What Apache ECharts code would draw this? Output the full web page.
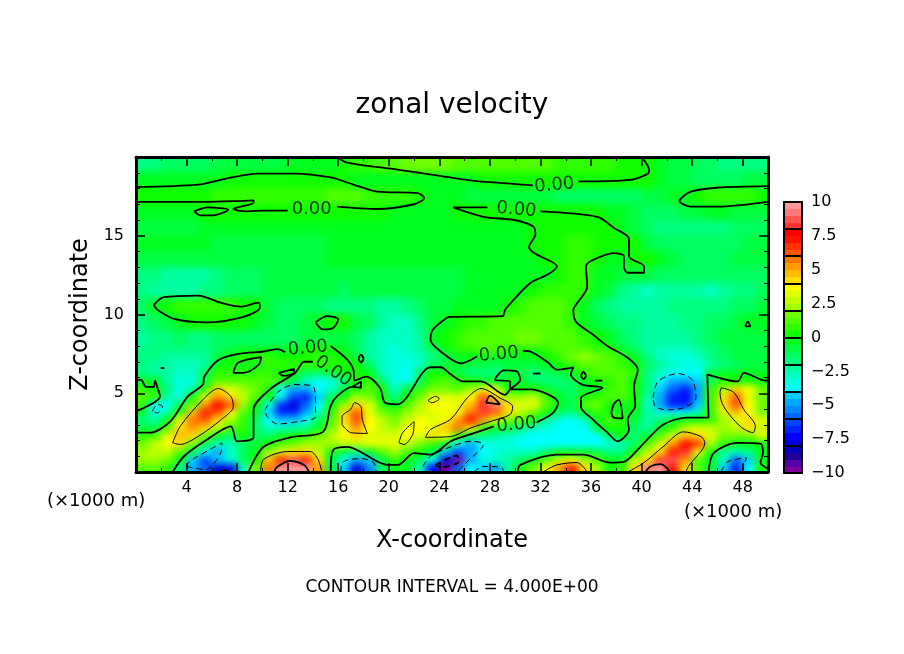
<!DOCTYPE html>
<html>
<head>
<meta charset="utf-8">
<title>zonal velocity</title>
<script src="https://cdn.jsdelivr.net/npm/echarts@6/dist/echarts.min.js"></script>
<style>
html, body { margin: 0; padding: 0; background: #fff; }
#main { width: 904px; height: 654px; }
/* the velocity cells sit alone on the first canvas layer: soften them, keep them inside the frame */
#main canvas[data-zr-dom-id="zr_0"] { filter: blur(3.5px); clip-path: inset(158px 137px 183px 137px); }
</style>
</head>
<body>
<div id="main"></div>
<script>
// cell edges of the velocity grid (x in km, one cell per km)
const xEdges = [0,1,2,3,4,5,6,7,8,9,10,11,12,13,14,15,16,17,18,19,20,21,22,23,24,25,26,27,28,29,30,31,32,33,34,35,36,37,38,39,40,41,42,43,44,45,46,47,48,49,50];
const zEdges = [20,19,18,17,16,15,14,13,12,11,10,9,8,7.5,7,6.5,6,5.5,5,4.5,4,3.5,3,2.5,2,1.5,1,0.5,0];

// velocity, one list per row, top row first
const u195 = [-1.6,-1.6,-1.5,-1.4,-1.2,-1.1,-1,-1,-0.9,-0.8, -0.7,-0.6,-0.5,-0.4,-0.3,-0.2,0.3,0.6,0.9,1.1, 1.4,1.6,1.7,1.7,1.5,1.4,1.3,1.3,1.2,1.2, 1.1,1,1,0.9,0.8,0.7,0.6,0.5,0.4,0.3, 0.1,-0.5,-0.8,-1,-1.2,-1.4,-1.6,-1.7,-1.7,-1.6];
const u185 = [-0.5,-0.5,-0.4,-0.4,-0.3,-0.2,-0.1,0.1,0.2,0.3, 0.4,0.4,0.4,0.4,0.3,0.2,0.1,-0.1,-0.2,-0.3, -0.3,-0.3,-0.3,-0.3,-0.2,-0.2,-0.1,0.05,0.1,0.2, 0.3,0.4,0.4,0.4,0.3,0.1,0.05,0.05,0.05,0.05, 0.1,-0.5,-0.9,-1,-1.1,-1.2,-1.1,-1.1,-1,-1];
const u175 = [0.2,0.2,0.2,0.2,0.3,0.4,0.5,0.6,0.7,0.8, 0.9,0.8,0.7,0.7,0.9,1,1,1.2,0.8,0.7, 0.6,0.5,0.3,-0.1,-0.4,-0.5,-0.7,-0.8,-0.9,-1, -1,-1,-1,-1.1,-1.2,-1.2,-1.2,-1.1,-1.1,-1.1, -1,-0.8,-0.5,-0.1,0.3,0.5,0.6,0.5,0.5,0.4];
const u165 = [-0.4,-0.4,-0.4,-0.3,-0.1,0.1,0.1,0.1,0.1,0.1, 0.1,0.1,0.1,0.1,0.2,0.2,0.2,0.2,0.1,0.1, -0.1,-0.2,-0.3,-0.4,-0.3,0.1,0.2,0.2,0.1,0.1, 0.1,0.2,0.2,0.3,0.3,0.2,0.1,-0.1,-0.5,-0.9, -1.3,-1.4,-1.3,-0.9,-0.7,-0.5,-0.5,-0.6,-0.6,-0.6];
const u155 = [-0.6,-0.7,-0.7,-0.6,-0.6,-0.5,-0.5,-0.5,-0.5,-0.5, -0.5,-0.5,-0.5,-0.5,-0.5,-0.4,-0.4,-0.3,-0.2,-0.2, -0.3,-0.3,-0.3,-0.3,-0.4,-0.4,-0.4,-0.3,-0.3,-0.2, -0.2,0.05,0.3,0.4,0.4,0.4,0.3,0.1,-0.3,-0.8, -1.5,-1.7,-1.9,-1.9,-1.9,-2,-1.8,-1.4,-1.2,-1.1];
const u145 = [-0.5,-0.3,-0.2,-0.2,-0.3,-0.5,-0.6,-0.6,-0.6,-0.6, -0.6,-0.6,-0.6,-0.6,-0.6,-0.4,-0.2,-0.2,-0.3,-0.2, -0.2,-0.2,-0.3,-0.3,-0.4,-0.4,-0.4,-0.4,-0.3,-0.3, -0.2,0.05,0.3,0.4,0.5,0.5,0.4,0.3,0.2,0.05, -0.8,-1.2,-1.4,-1.4,-1.4,-1.4,-1.2,-1.1,-1,-1];
const u135 = [-1,-0.9,-0.8,-0.8,-0.8,-0.8,-0.8,-0.8,-0.8,-0.8, -0.7,-0.7,-0.7,-0.7,-0.6,-0.4,-0.3,-0.3,-0.3,-0.3, -0.3,-0.4,-0.4,-0.4,-0.4,-0.4,-0.3,-0.3,-0.3,-0.3, -0.2,-0.1,0.1,0.3,0.5,0.5,0.1,-0.2,-0.2,0.2, 0.1,-0.5,-0.9,-1.1,-1.2,-1.2,-1.1,-1,-1,-1];
const u125 = [-1.8,-2,-2.1,-2.2,-2.2,-2.1,-1.8,-1.5,-1.4,-1.3, -1,-0.9,-0.9,-0.9,-0.9,-0.9,-0.8,-0.8,-0.8,-0.8, -0.8,-0.8,-0.7,-0.7,-0.6,-0.6,-0.5,-0.5,-0.4,-0.4, -0.3,-0.2,-0.1,0.3,0.5,0.5,-0.2,-0.5,-0.7,-0.8, -0.9,-1.1,-1.4,-1.5,-1.5,-1.4,-1.3,-1.2,-1.2,-1.2];
const u115 = [-2,-2.2,-2.4,-2.3,-2.2,-2,-1.8,-1.5,-1.3,-1.1, -0.9,-0.8,-0.8,-0.8,-0.9,-1,-1.1,-1,-1,-1, -1,-0.9,-0.9,-0.8,-0.7,-0.6,-0.5,-0.4,-0.3,-0.2, -0.05,0.2,0.5,0.7,0.8,0.6,-0.3,-1,-1.6,-2.4, -2.6,-2.4,-2.3,-2.3,-2.5,-2.6,-2.4,-2,-1.6,-1.5];
const u105 = [-1.2,-0.2,0.3,0.5,0.7,0.8,0.8,0.7,0.4,0.2, -0.9,-1.3,-1.3,-1.4,-1.5,-1.6,-1.7,-1.8,-1.9,-2.2, -2.3,-2,-1.5,-1,-0.8,-0.5,-0.4,-0.2,-0.1,0.1, 0.7,1.1,1.2,1,0.6,-0.3,-1.2,-2,-2.5,-2.4, -2.2,-2.1,-2,-1.9,-1.9,-1.9,-1.8,-1.5,-1.2,-1];
const u095 = [-1.8,-1.2,-0.6,-0.1,0.2,0.4,0.4,0.3,0.05,-0.3, -1,-1.3,-1.3,-1,-0.4,0.1,0.05,-0.6,-1.5,-2.4, -3,-2.8,-2,-1,-0.1,0.3,0.6,0.9,1,1.1, 1.2,1.4,1.4,1.2,0.8,-0.1,-1,-1.5,-1.8,-2, -2.2,-2.2,-2.1,-1.8,-1.6,-1.4,-1.1,-0.8,-0.3,-0.1];
const u085 = [-2.2,-1.8,-1.6,-1.5,-1.6,-1.6,-1.4,-1.4,-1.3,-1.4, -1.4,-1.4,-1.3,-1,-0.8,-0.6,-0.7,-1.2,-2.2,-2.8, -3,-3,-2.3,-0.4,0.3,0.7,1,1.2,1.3,1.4, 1.5,1.5,1.4,1.2,1,0.8,0.3,-0.4,-1.4,-2, -2.3,-2.4,-2.4,-2.2,-1.8,-1.4,-1,-0.8,-0.6,-0.6];
const u0775 = [-1.8,-1.8,-1.9,-2,-2,-1.9,-1.4,-0.9,-0.3,-0.2, -0.1,-0.1,-0.1,0.05,0.1,0.1,-0.3,-1.3,-2.4,-3, -3.1,-3,-2.3,-1.2,-0.1,0.6,0.9,1.1,1.1,0.7, 0.2,0.4,0.8,1,1.2,1.3,0.9,0.5,-0.2,-1.2, -2.2,-2.7,-3,-2.9,-2.4,-1.8,-1.2,-1,-0.9,-0.9];
const u0725 = [-2,-2,-2.1,-2.3,-2.3,-2.2,-1,0.2,0.6,0.6, 0.5,0.3,0.3,0.4,0.5,0.4,0.1,-0.8,-2.2,-3, -3.3,-3.3,-2.8,-1.8,-1,-0.2,-0.2,-0.1,-0.2,-0.3, -0.3,-0.2,0.1,0.9,1.5,2,1.5,1,0.5,-0.3, -2,-2.8,-3.2,-3.2,-2.8,-2,-1.3,-1,-0.9,-0.9];
const u0675 = [-2,-2.1,-2.4,-2.6,-2.8,-2.5,-0.3,0.3,-0.1,-0.2, 0.5,0.8,0.8,0.7,0.6,0.6,0.4,0.1,-1.5,-2.8, -3.4,-3.5,-3,-1.5,-1,-0.9,-0.9,-1,-1.1,-1, -0.9,-0.8,-0.3,0.2,0.6,1.2,1.4,1.1,0.8,0.4, -1.2,-2.4,-3,-3.4,-3.2,-2.4,-1.6,-1.1,-1,-1];
const u0625 = [-1.8,-2.1,-2.4,-2.9,-3,-1.2,0.6,0.8,0.6,0.5, 0.8,0.1,-0.1,-1.2,-1.5,-0.6,0.3,0.2,-0.2,-2.6, -3.4,-3.7,-1.4,0.3,0.2,-0.6,-1.6,-1.7,-1.6,-1, -1,-1.6,-1.5,-1,-0.4,0.5,1.2,1,1,0.5, -1.6,-3,-3.8,-3.9,-3.7,-1,-0.5,-0.5,-0.2,-0.5];
const u0575 = [-0.2,-0.4,-2.5,-3.3,-3.4,-0.8,1,1.2,1.2,1.3, 1.2,0.6,-1,-2.6,-3.6,-3.4,-1.8,0.2,0.5,-1.2, -3.2,-3.5,-1.2,0.6,1,0.6,0.05,-0.2,-0.8,-0.5, -0.1,-1.2,-1.8,-1.8,-1.5,-0.1,0.4,0.8,1,0.4, -1.8,-3.8,-4.8,-5,-4.4,-1.5,0.5,0.3,0.4,0.1];
const u0525 = [0.8,0.2,-1.8,-3.3,-2.4,0.5,4,3.2,2.2,1.8, 0.3,-3.6,-4.6,-4.7,-3.9,-3,-0.8,0.2,1,0.1, -2.8,-1,0.6,1.8,1.8,1.4,2.2,3.8,3,0.2, -0.1,0.1,-0.4,-1.3,-1.4,-0.6,-0.2,0.9,1.3,0.2, -2,-4.2,-6,-6.6,-4.6,0.5,2,4.1,3.8,1.6];
const u0475 = [1.4,0.6,-2.2,-3.4,0.1,3,5.4,4.4,2.8,1, -0.5,-3.8,-6.4,-7,-4.3,-1.5,0.4,2,1.6,0.1, -1.6,0.1,1.6,3.1,3.2,3,3.6,6,4.4,2.2, 2.2,2.8,1,-0.3,-1.2,0.1,0.8,1.4,1.2,0.1, -2.4,-4.8,-7,-7.2,-4.8,0.7,4.4,6,3.2,1.6];
const u0425 = [0.5,-3.6,-3.7,-1,1.6,5.2,7.6,6,2,0.1, -3.2,-7,-8,-5.8,-3.7,0.1,2.2,4.1,3.2,0.8, -0.2,1.4,2.6,3.7,3.6,3.4,4.6,8,9.4,4.4, 3,3.2,1.2,-0.4,-0.6,1,1.6,0.3,-0.1,0.1, -2.6,-4.6,-6.8,-6.8,-4.4,0.7,4,6.2,3.8,1.6];
const u0375 = [-0.2,-3.5,-2.2,0.5,4.6,7.4,6,3.6,1.4,-0.3, -4.3,-6.6,-7,-5,-3,0.6,4.3,6,3,1.5, 1,2,2.9,3.3,3.4,3.8,5.6,8,6.4,4.2, 2.6,1.6,0.4,-1.2,-2,-0.4,0.8,0.3,-0.1,-0.5, -2.4,-3.4,-3.7,-3.7,-2.8,0.7,3.2,4.5,3.8,1.8];
const u0325 = [-2,-2.4,-0.3,3.3,5.6,6.4,4.2,2,0.6,-1.2, -3.6,-4.3,-4.2,-3.6,-1.3,1,4.2,6,3.6,2.5, 1.8,2.9,3.7,3.2,3.7,5.4,7,5,3.4,1.9, 1,0.2,-2.2,-3.4,-3.6,-2.6,-0.2,1,0.8,-1, -2.4,-1.8,-0.5,0.2,0.4,0.8,2.2,3.2,4.4,3.4];
const u0275 = [-0.6,-0.6,1.4,4,5,4.4,2.6,1.2,0.6,-1.5, -2.6,-2.8,-2.4,-1.8,-0.3,1.8,3.8,5,3.5,2.9, 2.4,3.6,3.8,3.4,4.8,5.6,4,0.9,-0.3,-1, -1.6,-2.8,-3.4,-3.8,-3.9,-3.6,-1,0.3,0.4,-1.4, -2.4,-0.3,0.9,2.6,3.4,2.6,2.2,2.8,4,2.8];
const u0225 = [0.8,1,3,4.8,4.4,1.8,-0.4,-1.2,0.2,-1.2, -1.4,-0.3,0.2,0.8,1.6,2.6,3.6,4.4,3.3,3.1, 3.1,3.9,3.4,4.3,3.5,0.6,-1.2,-1.8,-2.2,-2.6, -3.4,-3.6,-3.7,-3.8,-3.8,-3.7,-3.6,-1.2,0.1,-1.8, -0.4,1,3.2,4.6,4.4,3,1.9,1.5,1.9,3];
const u0175 = [1.8,2.6,3.6,4,1.8,-0.6,-3,-2.6,-1.4,-0.8, 0.1,1,1.6,2.2,2.4,2.4,2.6,2.8,3,3.4, 3.2,2.6,1.7,0.9,-0.3,-3.8,-4.6,-4,-3.4,-3.2, -3.8,-3.8,-3.6,-3.6,-3.6,-3.7,-3.8,-3.5,-2.6,-1.4, 1,3.2,5,7.6,6.6,2.4,0.6,-0.2,-0.5,-0.2];
const u0125 = [2.2,2.8,2.6,1.4,-0.6,-3.8,-5,-2.6,-1.2,-0.4, 2,3,4.3,4.4,2.8,0.1,-1,-1.8,-0.2,1.2, 2.2,1.4,0.2,-0.8,-4.4,-6.4,-5,-3.8,-3.2,-2.6, -3,-2.6,-1.4,-0.4,-0.2,-0.3,-1,-1.8,-1.6,0.2, 2.6,4.4,7,8,3.6,0.1,-2.2,-2.8,-2,-0.5];
const u0075 = [2,2.4,1.5,0.1,-4.4,-6.4,-4.2,-3.2,-1.4,0.2, 4.6,7,8.6,7.4,4,-0.6,-4,-4.8,-4.2,-0.8, 0.5,-0.3,-1.5,-4,-8,-9.6,-4.6,-3.4,-2.8,-2.4, -1.4,-0.2,1,2.6,3.6,2.4,1,-0.4,-0.2,2.6, 4.4,8,8.6,5.2,1,-0.2,-3,-5.6,-4.2,-0.2];
const u0025 = [1.2,1.3,0.6,-1.6,-4.6,-6,-7.6,-8,-3,1.6, 5.6,9.6,10,9.8,5.4,-0.8,-4.4,-8,-5.2,-1.4, -0.1,-0.5,-2.6,-7.4,-9.6,-6,-3.6,-4.2,-4.6,-2.4, 0.1,1.6,3.6,5,7.2,4.4,2,0.4,0.8,4.4, 9,9.8,7,4,1.4,-0.3,-4.2,-7,-3.6,0.1];
const uRows = [u195,u185,u175,u165,u155,u145,u135,u125,u115,u105,u095,u085,u0775,u0725,u0675,u0625,u0575,u0525,u0475,u0425,u0375,u0325,u0275,u0225,u0175,u0125,u0075,u0025];

// colour levels, 0.5 wide, from -10 upward
const levelColors = ['#800099','#5500aa','#200099','#0000bb','#0000dd','#0000ff','#0022ff','#0044ff','#0066ff','#0088ff','#00aaff','#00ccff','#00ffff','#00ffe0','#00ffc0','#00ffa0','#00ff80','#00ff60','#00ff40','#00ff20','#10ff00','#30ff00','#50ff00','#70ff00','#a0ff00','#c0ff00','#e0ff00','#ffff00','#ffdd00','#ffbb00','#ff9900','#ff7700','#ff5500','#ff3300','#ff1100','#ff0000','#ff3333','#ff5555','#ff7777','#ff9999'];
const barLevels = [-10,-9.5,-9,-8.5,-8,-7.5,-7,-6.5,-6,-5.5,-5,-4.5,-4,-3.5,-3,-2.5,-2,-1.5,-1,-0.5,0,0.5,1,1.5,2,2.5,3,3.5,4,4.5,5,5.5,6,6.5,7,7.5,8,8.5,9,9.5];

// zero contours, [x, z]
const zeroTopA = [[0,18.1],[4.9,18.25],[7,18.6],[9.6,18.95],[12.5,18.95],[15.4,18.7],[17.2,18.25],[19.1,17.8],[22.3,17.7],[22.8,17.4],[22,17],[19.1,16.7],[15.9,16.85]];
const zeroTopB = [[12,16.6],[10.1,16.6],[8.8,16.55],[7.7,16.7],[9.3,17.1],[9.3,17.25],[8,17.2],[5.4,17.15],[3,17.15],[0,17.15]];
const zeroLoopA = [[4.6,16.55],[5.7,16.8],[7.3,16.65],[6.1,16.3],[5.1,16.3],[4.6,16.55]];
const zeroHighA = [[15.9,20],[16.7,19.65],[20.7,19.2],[25.7,18.6],[28,18.4],[31.4,18.2]];
const zeroHighB = [[35,18.45],[39.1,18.55],[40.4,18.9],[40.6,19.15],[40,20]];
const zeroRight = [[50,18.15],[46,18.05],[43.9,17.8],[43,17.2],[43.9,16.85],[46,16.85],[50,17.15]];
const zeroTongueA = [[27.8,16.8],[25.1,16.8],[27.5,16.2],[29.9,16],[31.4,15.6],[31.6,15.1],[31.1,14.3],[31.5,13.9],[33.3,13.05],[32.6,12.55],[31.2,12],[29.5,10.6],[29.2,10.3],[29,9.9],[24.9,9.85],[24.6,9.8],[23.5,9.05],[23.3,8.4],[24.1,7.65],[25.7,6.9],[27,7.35]];
const zeroTongueB = [[30.6,7.7],[31.2,7.65],[32.6,6.95],[33.3,6.5],[34.6,6.65],[34.4,6.2],[35.3,5.55],[36.9,5.35],[35.2,4.7],[35.2,4.15],[36.2,3.3],[37.3,2.5],[38.1,1.95],[39,2.7],[38.9,3.35],[39.5,4.2],[39.4,5.45],[39.7,6.5],[38.9,7.25],[37.3,8],[36.2,8.7],[34.8,9.55],[34.6,10.3],[34.8,10.6],[35.7,11.8],[35.6,13.05],[36,13.4],[37.8,13.9],[38.6,13.7],[38.6,13.05],[38.9,12.65],[40.2,12.65],[40.2,13.05],[39,13.7],[39,14.8],[37.8,15.5],[36.5,16.2],[32,16.55]];
const zeroIslandA = [[1.4,10.6],[2.2,11.1],[4.9,11.2],[6.7,10.75],[8.3,10.5],[9.7,10.75],[9.8,10.45],[8.5,9.85],[5.6,9.5],[3.1,9.7],[1.7,10.3],[1.4,10.6]];
const zeroIslandB = [[14.2,9.5],[15.1,9.9],[16,9.7],[15.6,9.15],[14.8,9.05],[14.2,9.5]];
const zeroMainA = [[0,2.5],[1.1,2.5],[2.7,3.2],[4.1,4.8],[5.3,5.55],[5.4,6.05],[6.5,7.1],[8.1,7.5],[10.1,7.65],[11.2,7.8],[11.8,7.6]];
const zeroMainB = [[15.4,8],[16.7,7.15],[17.2,6.5],[17.3,5.8],[18.2,6.05],[19.3,5.35],[19.7,4.4],[20.7,4.3],[23.3,6.65],[24.1,6.65],[24.9,6.2],[25.9,5.75],[27.3,5.75],[29.2,4.9],[29.6,5.25],[30.4,5.85],[30.1,6.4],[29.1,6.45],[28.4,5.85],[29.6,5.75],[29.6,5.25],[31.2,5.25],[33.4,4.4],[33,3.75],[31.7,3.15]];
const zeroMainC = [[28.3,2.9],[26.5,2.4],[24.9,1.95],[23.3,1.1],[22,1.2],[20.7,0.45],[19.9,0.45],[16.7,1.6],[15.6,1.4],[15.4,0]];
const zeroLeftA = [[0,3.85],[1.9,4.8],[1.7,5.35],[1.5,5.8],[1.4,5.4],[0.8,5.4],[0.4,5.85],[0,5.85]];
const zeroUnderA = [[2.9,0],[3.8,1],[5.6,2.05],[7.5,2.9],[8,1.95],[9.3,2.2],[9.3,3.95],[10.6,5.25],[12.6,6.3],[13.3,7],[14,7]];
const zeroUnderB = [[17.1,5.4],[17.8,5.75],[17.8,5.35],[17.1,5.4],[15.9,4.8],[15.4,4.2],[14.8,2.55],[12.2,2.2],[10.1,1.6],[8.9,0]];
const zeroLoopB = [[11.3,6.3],[12.5,6.55],[12.5,6.3],[11.7,6.1],[11.3,6.3]];
const zeroLoopC = [[7.7,6.3],[8.1,6.95],[9.9,7.3],[9.7,6.8],[8.5,6.3],[7.7,6.3]];
const zeroLoopD = [[17.6,7.2],[17.8,7.45],[18,7.2],[17.8,6.95],[17.6,7.2]];
const zeroDotA = [[1.95,6.6],[2.25,6.6]];
const zeroDotB = [[31.4,6.25],[32,6.25]];
const zeroLoopE = [[35.2,6.1],[35.4,6.35],[35.6,6.1],[35.4,5.9],[35.2,6.1]];
const zeroDotC = [[36.3,5.8],[36.9,5.8]];
const zeroLoopF = [[37.6,3.75],[37.8,4.3],[38.2,4.6],[38.5,3.4],[37.8,3.45],[37.6,3.75]];
const zeroLoopG = [[48.2,9.25],[48.4,9.55],[48.6,9.25],[48.2,9.25]];
const zeroBottomA = [[30.2,0],[30.4,0.45],[33.3,1.1],[35.4,1.1],[37.5,0.6],[38.6,0.65],[39.9,1.6],[41.7,3],[43.6,3.45],[45.3,3.45],[45.2,6.2],[47.6,5.75],[48.1,6.3],[49.8,5.8],[50,5.85]];
const zeroBottomB = [[45.3,0],[45.7,1.2],[47.6,1.85],[49.4,1.8],[49.6,1.2],[49.4,0.6],[50,0.2]];
const zeroCorner = [[6.6,0],[7,0.12],[7.4,0]];

// contours at +4 and +8
const plusFourA = [[2.9,1.85],[3.5,2.9],[5.3,4.6],[6.5,5.3],[7.5,4.8],[7.7,4.15],[6.7,3.3],[4.9,2.25],[3.5,1.75],[2.9,1.85]];
const plusFourB = [[9.85,0],[10.1,0.8],[12,1.3],[13.8,1.3],[14.4,0.8],[14.7,0]];
const plusFourC = [[23.1,4.55],[23.7,4.8],[24,4.65],[23.4,4.4],[23.1,4.55]];
const plusFourD = [[20.8,1.85],[21.1,2.5],[22,3.2],[21.9,2.4],[21.2,1.75],[20.8,1.85]];
const plusFourE = [[16.3,3],[16.3,3.5],[17,4],[17.3,4.4],[17.8,4.15],[17.9,3.35],[18.3,2.45],[17,2.5],[16.3,3]];
const plusFourF = [[22.9,2.2],[23.3,2.7],[24.9,3.35],[26.2,4.7],[27.3,5.3],[28.8,4.7],[29.8,4.15],[29.6,3.65],[28,3.2],[26.5,2.8],[24.9,2.25],[22.9,2.2]];
const plusFourG = [[32.2,0],[33.3,0.45],[34.9,0.6],[35.7,0]];
const plusFourH = [[38.9,0],[40.2,0.6],[41.7,1.6],[43.3,2.55],[44.7,2.25],[45,1.85],[43.7,0.35],[43.5,0]];
const plusFourI = [[46.3,5.35],[47.3,5.05],[48.1,3.95],[49,2.9],[48.8,2.5],[47.8,2.9],[46.5,4.15],[46.2,5.05],[46.3,5.35]];
const plusEightA = [[10.9,0],[11.2,0.35],[12.2,0.7],[13.3,0.45],[13.7,0]];
const plusEightB = [[27.7,4.4],[28,4.85],[28.8,4.3],[27.7,4.4]];
const plusEightC = [[40.3,0],[40.7,0.35],[41.5,0.5],[42.3,0]];

// contours at -4 and -8
const minusFourA = [[1.3,3.85],[1.7,4.3],[2.1,4.15],[1.7,3.75],[1.3,3.85]];
const minusFourB = [[4,0.35],[4.2,0.65],[5.9,1.45],[6.8,1.85],[6.7,1.2],[5.5,0.15],[4,0.35]];
const minusFourC = [[10.2,3.95],[11.2,5.05],[12.5,5.55],[14,5.45],[14.2,4.4],[14.2,3.5],[12.8,3.2],[11.2,3.05],[10.4,3.5],[10.2,3.95]];
const minusFourD = [[16.2,0],[16.4,0.65],[17.8,0.85],[18.8,0.6],[19,0]];
const minusFourE = [[22.7,0.35],[23.3,1],[24.9,1.6],[26.5,1.95],[27.5,1.75],[26.2,0.65],[25.4,0]];
const minusFourF = [[26.7,0],[27.5,0.35],[28.9,0.3],[29.1,0]];
const minusFourG = [[40.9,4.7],[41.3,5.75],[42.9,6.25],[44,5.85],[44.3,4.7],[43.4,4.1],[42,3.95],[41.1,4.15],[40.9,4.7]];
const minusFourH = [[46.3,0],[46.8,0.65],[48.3,0.9],[47.9,0]];
const minusEightA = [[23.7,0.45],[25.4,1.05],[25.5,0.65],[24.1,0.3],[23.7,0.45]];

// "0.00" labels, [x, z, rotation]
const contourLabels = [[13.9,16.7,0],[33.1,18.2,5],[30.1,16.65,-5],[13.6,7.85,5],[28.7,7.45,5],[30.1,3,5],[15.6,6.4,-35]];
const labelText = '0.00';

const xTickStep = 4;
const zTickStep = 5;
const barLabelStep = 2.5;
const barBlockStep = 2;

function contourSeries(lines, width, type) {
    return lines.map(function (line) {
        return {
            type: 'line', data: line, xAxisIndex: 0, yAxisIndex: 0, z: 5, zlevel: 1,
            symbol: 'none', silent: true, animation: false, smooth: 0.3,
            lineStyle: { color: '#000', width: width, type: type }
        };
    });
}

function levelColor(v) {
    var k = Math.floor((v + 10) / 0.5);
    return levelColors[Math.max(0, Math.min(levelColors.length - 1, k))];
}

function cellItem(params, api) {
    var a = api.coord([api.value(0), api.value(3)]);
    var b = api.coord([api.value(1), api.value(2)]);
    return {
        type: 'rect',
        shape: { x: Math.floor(a[0]), y: Math.floor(a[1]), width: Math.ceil(b[0]) - Math.floor(a[0]), height: Math.ceil(b[1]) - Math.floor(a[1]) },
        style: { fill: levelColor(api.value(4)) }
    };
}

// outer cells run past the frame so the softening does not fade at the border
function fieldItem(params, api) {
    var item = cellItem(params, api);
    var s = item.shape;
    s.width += 1;
    s.height += 1;
    if (api.value(0) === 0) { s.x -= 14; s.width += 14; }
    if (api.value(1) === 50) { s.width += 14; }
    if (api.value(2) === 0) { s.height += 14; }
    if (api.value(3) === 20) { s.y -= 14; s.height += 14; }
    return item;
}

var cells = [];
uRows.forEach(function (row, r) {
    row.forEach(function (v, c) {
        cells.push([xEdges[c], xEdges[c + 1], zEdges[r + 1], zEdges[r], v]);
    });
});
var barCells = barLevels.map(function (v) {
    return [0, 1, v, v + 0.5, v + 0.01];
});

var fontName = 'DejaVu Sans';
var tickFont = { fontFamily: fontName, fontSize: 16, color: '#000' };
var frame = { show: true, onZero: false, lineStyle: { color: '#000', width: 3 } };
var barFrame = { show: true, onZero: false, lineStyle: { color: '#000', width: 2 } };
var noTicks = { show: false };

var myChart = echarts.init(document.getElementById('main'), null, { renderer: 'canvas' });
myChart.setOption({
    animation: false,
    title: [
        { text: 'zonal velocity', left: 'center', top: 92, zlevel: 1, padding: 0, textStyle: { fontFamily: fontName, fontSize: 28, fontWeight: 'normal', color: '#000' } },
        { text: 'CONTOUR INTERVAL = 4.000E+00', left: 'center', top: 579, zlevel: 1, padding: 0, textStyle: { fontFamily: fontName, fontSize: 17, fontWeight: 'normal', color: '#000' } },
        { text: '(×1000 m)', left: 47, top: 492, zlevel: 1, padding: 0, textStyle: { fontFamily: fontName, fontSize: 18, fontWeight: 'normal', color: '#000' } },
        { text: '(×1000 m)', left: 684, top: 503, zlevel: 1, padding: 0, textStyle: { fontFamily: fontName, fontSize: 18, fontWeight: 'normal', color: '#000' } }
    ],
    grid: [
        { left: 136, top: 157, width: 632, height: 315 },
        { left: 784, top: 202, width: 18, height: 271 }
    ],
    xAxis: [
        { type: 'value', gridIndex: 0, min: 0, max: 50, interval: xTickStep, z: 10, zlevel: 1, position: 'bottom',
          name: 'X-coordinate', nameLocation: 'middle', nameGap: 57, nameTextStyle: { fontFamily: fontName, fontSize: 24, color: '#000' },
          axisLine: frame, splitLine: { show: false },
          axisTick: { show: true, inside: true, length: 9, lineStyle: { color: '#000', width: 1.5 } },
          minorTick: { show: true, splitNumber: 2, length: 4, lineStyle: { color: '#000' } },
          axisLabel: Object.assign({ margin: 8, showMinLabel: false, showMaxLabel: false }, tickFont) },
        { type: 'value', gridIndex: 0, min: 0, max: 50, interval: xTickStep, z: 10, zlevel: 1, position: 'top',
          axisLine: frame, splitLine: { show: false },
          axisTick: { show: true, inside: true, length: 9, lineStyle: { color: '#000', width: 1.5 } },
          minorTick: { show: true, splitNumber: 2, length: 4, lineStyle: { color: '#000' } },
          axisLabel: { show: false } },
        { type: 'value', gridIndex: 1, min: 0, max: 1, position: 'bottom', z: 10, zlevel: 1, axisLine: barFrame, axisTick: noTicks, axisLabel: { show: false }, splitLine: { show: false } },
        { type: 'value', gridIndex: 1, min: 0, max: 1, position: 'top', z: 10, zlevel: 1, axisLine: barFrame, axisTick: noTicks, axisLabel: { show: false }, splitLine: { show: false } }
    ],
    yAxis: [
        { type: 'value', gridIndex: 0, min: 0, max: 20, interval: zTickStep, z: 10, zlevel: 1, position: 'left',
          name: 'Z-coordinate', nameLocation: 'middle', nameGap: 39, nameTextStyle: { fontFamily: fontName, fontSize: 24, color: '#000' },
          axisLine: frame, splitLine: { show: false },
          axisTick: { show: true, inside: true, length: 9, lineStyle: { color: '#000', width: 1.5 } },
          minorTick: { show: true, splitNumber: 5, length: 4, lineStyle: { color: '#000' } },
          axisLabel: Object.assign({ margin: 12, showMinLabel: false, showMaxLabel: false }, tickFont) },
        { type: 'value', gridIndex: 0, min: 0, max: 20, interval: zTickStep, z: 10, zlevel: 1, position: 'right',
          axisLine: frame, splitLine: { show: false },
          axisTick: { show: true, inside: true, length: 9, lineStyle: { color: '#000', width: 1.5 } },
          minorTick: { show: true, splitNumber: 5, length: 4, lineStyle: { color: '#000' } },
          axisLabel: { show: false } },
        { type: 'value', gridIndex: 1, min: -10, max: 10, interval: barLabelStep, position: 'right', z: 10, zlevel: 1,
          axisLine: barFrame, axisTick: noTicks, splitLine: { show: false },
          axisLabel: Object.assign({ margin: 9, formatter: function (v) { return String(v).replace('-', '\u2212'); } }, tickFont) },
        { type: 'value', gridIndex: 1, min: -10, max: 10, interval: barBlockStep, position: 'left', z: 10, zlevel: 1,
          axisLine: barFrame, axisLabel: { show: false }, splitLine: { show: false },
          axisTick: { show: true, inside: true, length: 18, lineStyle: { color: '#000', width: 2 } } }
    ],
    series: [
        { type: 'custom', data: cells, xAxisIndex: 0, yAxisIndex: 0, z: 1, zlevel: 0, silent: true, renderItem: fieldItem, encode: { x: [0, 1], y: [2, 3] } },
        { type: 'custom', data: barCells, xAxisIndex: 2, yAxisIndex: 2, z: 1, zlevel: 1, silent: true, renderItem: cellItem, encode: { x: [0, 1], y: [2, 3] } },
        {
            type: 'scatter', xAxisIndex: 0, yAxisIndex: 0, z: 6, zlevel: 1, silent: true, symbolSize: 0,
            data: contourLabels.map(function (d) {
                return {
                    value: [d[0], d[1]],
                    label: { show: true, position: 'inside', formatter: labelText, rotate: d[2], fontFamily: fontName, fontSize: 18, color: '#000' }
                };
            })
        }
    ].concat(
        contourSeries([zeroTopA, zeroTopB, zeroLoopA, zeroHighA, zeroHighB, zeroRight, zeroTongueA, zeroTongueB, zeroIslandA, zeroIslandB, zeroMainA, zeroMainB, zeroMainC, zeroLeftA, zeroUnderA, zeroUnderB, zeroLoopB, zeroLoopC, zeroLoopD, zeroDotA, zeroDotB, zeroLoopE, zeroDotC, zeroLoopF, zeroLoopG, zeroBottomA, zeroBottomB, zeroCorner, plusEightA, plusEightB, plusEightC], 1.8, 'solid'),
        contourSeries([plusFourA, plusFourB, plusFourC, plusFourD, plusFourE, plusFourF, plusFourG, plusFourH, plusFourI], 1, 'solid'),
        contourSeries([minusFourA, minusFourB, minusFourC, minusFourD, minusFourE, minusFourF, minusFourG, minusFourH], 1, [6, 4]),
        contourSeries([minusEightA], 1.8, [6, 4])
    )
});
</script>
</body>
</html>
